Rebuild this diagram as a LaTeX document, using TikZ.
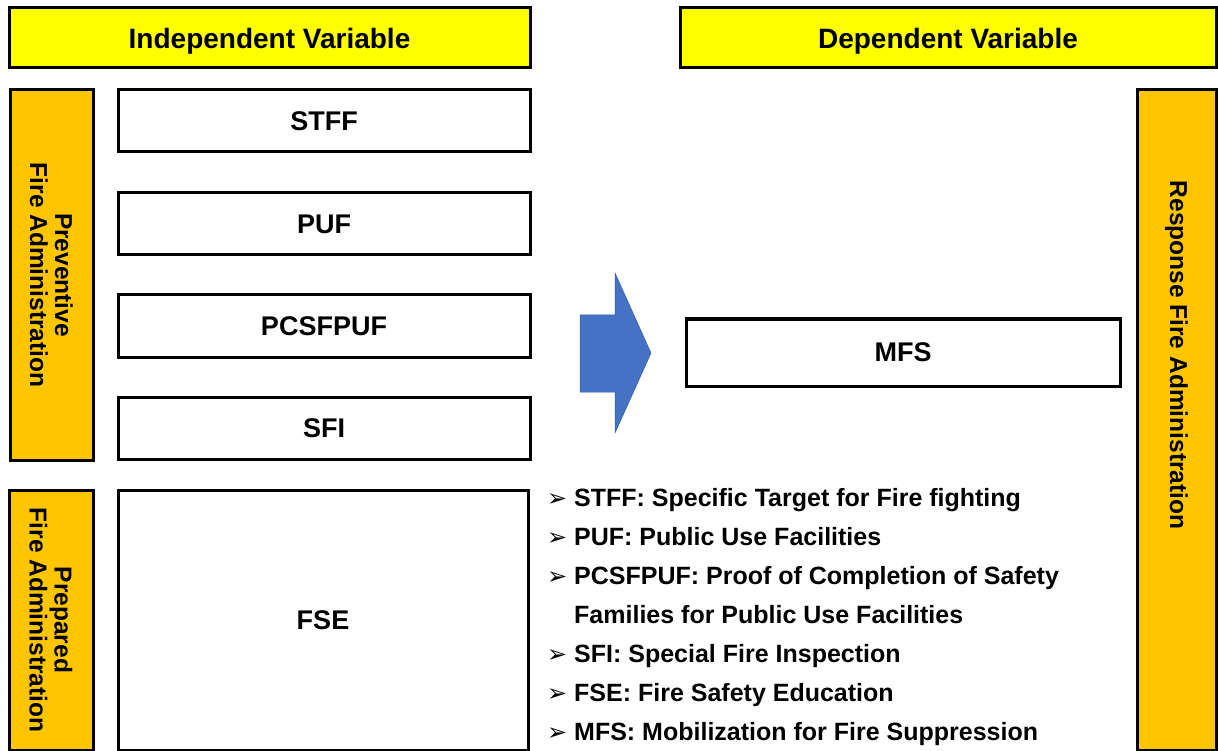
\documentclass[tikz,border=0pt]{standalone}
\usepackage{fontspec}
\setmainfont{Liberation Sans}
\newfontfamily\symfont{DejaVu Sans}
\usepackage{tikz}
\definecolor{hdyellow}{HTML}{FFFF00}
\definecolor{bargold}{HTML}{FFC600}
\definecolor{arrblue}{HTML}{4472C4}
\newcommand{\bul}{\llap{{\symfont\fontsize{24}{24}\selectfont ➢}\hspace{7pt}}}

\begin{document}
\begin{tikzpicture}[x=1pt,y=-1pt,
  header/.style={draw=black,line width=3pt,fill=hdyellow,minimum height=60pt,text depth=0pt,font=\bfseries\fontsize{28}{30}\selectfont},
  bar/.style={draw=black,line width=3pt,fill=bargold},
  bartext/.style={rotate=-90,align=center,font=\bfseries\fontsize{24.5}{25}\selectfont},
  varbox/.style={draw=black,line width=3pt,fill=white,text depth=0pt,font=\bfseries\fontsize{27}{29}\selectfont},
  legitem/.style={anchor=base west,inner sep=0pt,font=\bfseries\fontsize{25}{30}\selectfont}]
\useasboundingbox (0,0) rectangle (1218,751);
% headers
\node[header,minimum width=521pt] (indep) at (269.5,38) {Independent Variable};
\node[header,minimum width=536pt] (dep) at (948,38) {Dependent Variable};
% side bars
\node[bar,minimum width=83pt,minimum height=370pt] (prevbar) at (51.5,275) {};
\node[bartext] (prevtext) at (prevbar) {Preventive\\Fire Administration};
\node[bar,minimum width=84pt,minimum height=260pt] (prepbar) at (51,620) {};
\node[bartext] (preptext) at (prepbar) {Prepared\\Fire Administration};
\node[bar,minimum width=79pt,minimum height=660pt] (respbar) at (1176.5,420) {};
\node[bartext] (resptext) at (1176.5,355) {Response Fire Administration};
% independent variables
\node[varbox,minimum width=412pt,minimum height=62pt] (stff) at (324,121) {STFF};
\node[varbox,minimum width=412pt,minimum height=62pt] (puf) at (324,224) {PUF};
\node[varbox,minimum width=412pt,minimum height=62pt] (pcsfpuf) at (324,326) {PCSFPUF};
\node[varbox,minimum width=412pt,minimum height=62pt] (sfi) at (324,428.5) {SFI};
\node[varbox,minimum width=410pt,minimum height=260pt] (fse) at (323,620) {FSE};
% dependent variable
\node[varbox,minimum width=434pt,minimum height=67pt] (mfs) at (903,352.5) {MFS};
% block arrow
\fill[arrblue,draw=arrblue!80!black,line width=0.5pt] (580,315) -- (615,315) -- (615,273) -- (651,353)
  -- (615,433) -- (615,392) -- (580,392) -- cycle;
% legend
\node[legitem] (leg1) at (574,506) {\bul STFF: Specific Target for Fire fighting};
\node[legitem] (leg2) at (574,545) {\bul PUF: Public Use Facilities};
\node[legitem] (leg3) at (574,584) {\bul PCSFPUF: Proof of Completion of Safety};
\node[legitem] (leg4) at (574,623) {Families for Public Use Facilities};
\node[legitem] (leg5) at (574,662) {\bul SFI: Special Fire Inspection};
\node[legitem] (leg6) at (574,701) {\bul FSE: Fire Safety Education};
\node[legitem] (leg7) at (574,740) {\bul MFS: Mobilization for Fire Suppression};
\end{tikzpicture}
\end{document}
